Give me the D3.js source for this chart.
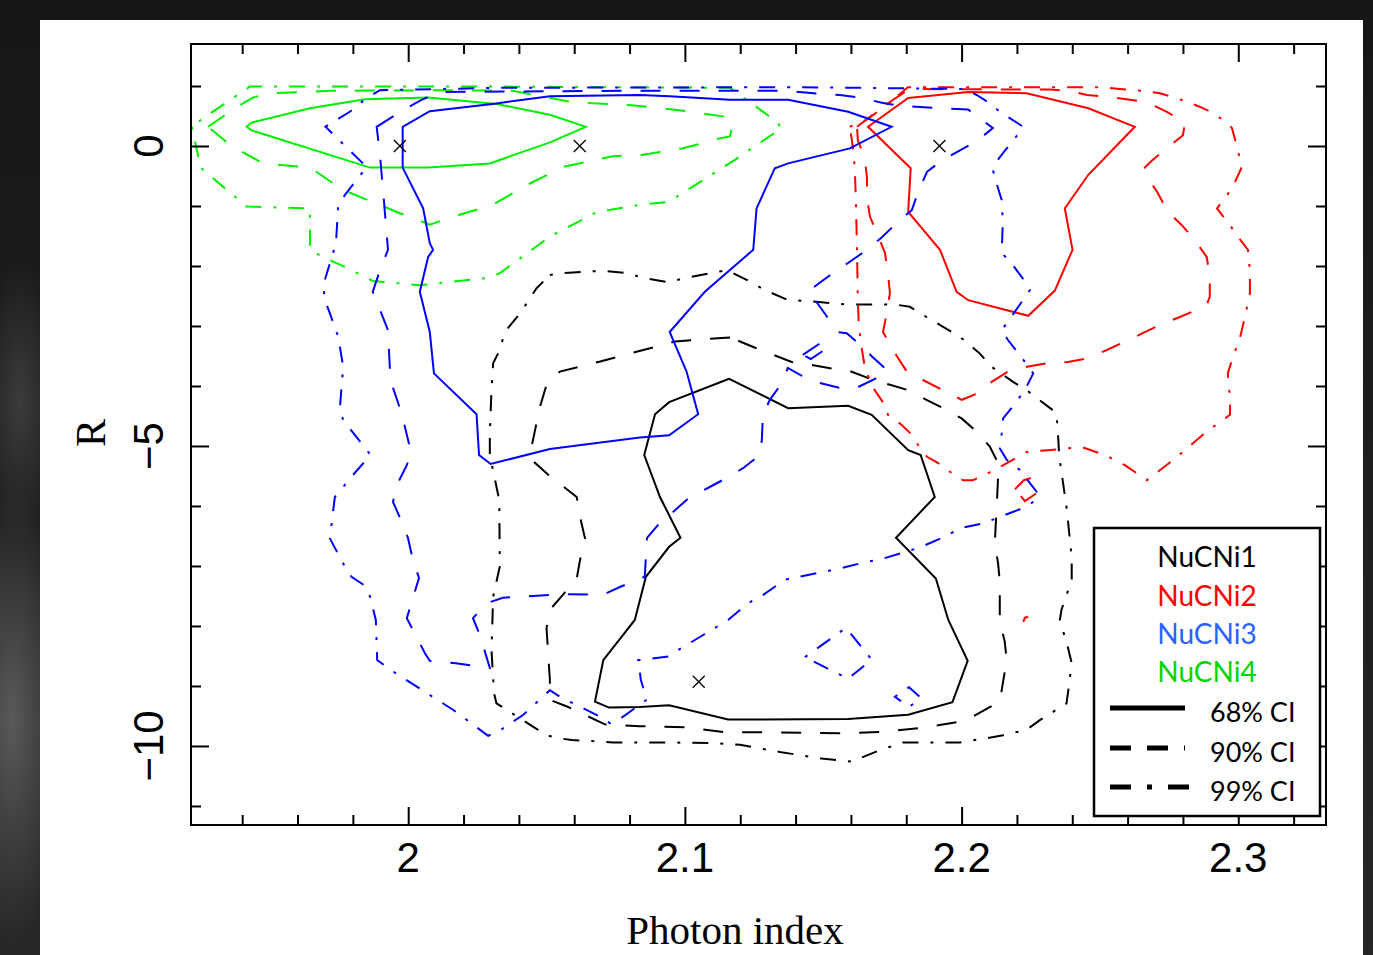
<!DOCTYPE html>
<html>
<head>
<meta charset="utf-8">
<script src="https://cdn.jsdelivr.net/npm/d3@7"></script>
<style>
  html, body { margin: 0; padding: 0; background: #1a1a1a; overflow: hidden; }
  svg { display: block; }
</style>
</head>
<body>
<script>
// ---- data: contour vertices as [photon index, R] ----

// NuCNi1 (black)
var ni1_68 = [[2.116,-3.88],[2.0943,-4.27],[2.0892,-4.47],[2.0853,-5.15],[2.091,-5.85],[2.0984,-6.53],[2.0943,-6.68],
  [2.0859,-7.18],[2.0819,-7.9],[2.0705,-8.57],[2.0675,-9.26],[2.0726,-9.36],[2.0837,-9.35],[2.0943,-9.32],[2.1156,-9.56],
  [2.159,-9.55],[2.1807,-9.48],[2.1967,-9.27],[2.2022,-8.58],[2.1952,-7.9],[2.1907,-7.21],[2.1763,-6.53],[2.1903,-5.85],
  [2.1852,-5.15],[2.1807,-5.07],[2.1675,-4.48],[2.159,-4.33],[2.1373,-4.37]];
var ni1_90 = [[2.1163,-3.19],[2.1042,-3.23],[2.0964,-3.26],[2.0825,-3.43],[2.0687,-3.6],[2.0548,-3.76],[2.05,-3.98],
  [2.0476,-4.35],[2.0446,-5.01],[2.0446,-5.23],[2.0506,-5.48],[2.0609,-5.85],[2.0621,-6.18],[2.0639,-6.54],[2.0621,-6.9],
  [2.0609,-7.21],[2.0548,-7.54],[2.0512,-7.73],[2.05,-8.04],[2.0512,-8.9],[2.0512,-9.23],[2.0578,-9.35],[2.0711,-9.64],
  [2.0837,-9.67],[2.1,-9.69],[2.1145,-9.77],[2.1289,-9.77],[2.1584,-9.79],[2.1729,-9.76],[2.1867,-9.69],[2.2012,-9.58],
  [2.2138,-9.26],[2.215,-8.93],[2.2163,-8.57],[2.2156,-8.26],[2.2138,-7.93],[2.2138,-7.26],[2.2132,-6.96],[2.212,-6.62],
  [2.2128,-5.9],[2.2132,-5.51],[2.2126,-5.23],[2.2102,-5.01],[2.2054,-4.76],[2.2,-4.54],[2.1933,-4.37],[2.1873,-4.23],
  [2.1807,-4.07],[2.1741,-3.98],[2.168,-3.9],[2.1596,-3.75],[2.153,-3.71],[2.1458,-3.65],[2.1386,-3.6],[2.1319,-3.48],
  [2.1247,-3.35]];
var ni1_99 = [[2.0512,-2.15],[2.0548,-2.12],[2.0699,-2.08],[2.0795,-2.12],[2.0849,-2.2],[2.094,-2.27],[2.1,-2.2],
  [2.1151,-2.07],[2.1223,-2.23],[2.1289,-2.4],[2.1368,-2.56],[2.1428,-2.58],[2.1584,-2.64],[2.1729,-2.64],[2.1771,-2.65],
  [2.1813,-2.68],[2.1873,-2.85],[2.1994,-3.18],[2.2066,-3.46],[2.2108,-3.68],[2.2186,-3.93],[2.2235,-4.07],[2.2343,-4.45],
  [2.2349,-4.85],[2.2353,-5.18],[2.2379,-6.01],[2.2398,-6.85],[2.2398,-7.23],[2.2361,-7.73],[2.2355,-7.9],[2.2385,-8.37],
  [2.2398,-8.62],[2.2385,-9.1],[2.2379,-9.29],[2.2283,-9.57],[2.2235,-9.73],[2.215,-9.82],[2.209,-9.87],[2.1994,-9.94],
  [2.1789,-9.94],[2.1699,-10.08],[2.1602,-10.26],[2.1494,-10.21],[2.1343,-10.1],[2.1199,-9.98],[2.1102,-9.95],
  [2.0885,-9.94],[2.0741,-9.94],[2.0591,-9.9],[2.0542,-9.87],[2.05,-9.82],[2.0452,-9.68],[2.0319,-9.29],[2.031,-9.12],
  [2.0301,-8.4],[2.0307,-7.51],[2.0331,-7.01],[2.0329,-5.9],[2.0295,-5.15],[2.0295,-4.79],[2.0301,-4.07],[2.0307,-3.62],
  [2.0331,-3.4],[2.0349,-3.1],[2.0404,-2.79],[2.0464,-2.37]];

// NuCNi2 (red)
var ni2_68 = [[2.1662,0.32],[2.1807,0.8],[2.2024,0.9],[2.2235,0.88],[2.2458,0.63],[2.2626,0.32],[2.2458,-0.48],
  [2.2373,-1.04],[2.2401,-1.73],[2.2337,-2.41],[2.2241,-2.83],[2.2024,-2.57],[2.1982,-2.43],[2.1922,-1.73],
  [2.1807,-1.1],[2.1816,-0.37]];
var ni2_68b = [[2.2223,-7.93],[2.2229,-7.86],[2.2241,-7.85]];
var ni2_90 = [[2.1622,0.32],[2.1687,0.55],[2.1752,0.77],[2.1813,0.95],[2.2319,0.94],[2.2391,0.92],[2.2453,0.85],
  [2.2536,0.82],[2.2608,0.77],[2.267,0.73],[2.2742,0.57],[2.2807,0.39],[2.28,0.18],[2.2742,-0.04],[2.2691,-0.23],
  [2.2662,-0.36],[2.267,-0.51],[2.2706,-0.76],[2.2746,-1.1],[2.2796,-1.32],[2.2843,-1.57],[2.2886,-1.85],[2.2897,-2.18],
  [2.2897,-2.51],[2.2886,-2.65],[2.285,-2.73],[2.2789,-2.85],[2.2717,-2.98],[2.2655,-3.12],[2.259,-3.26],[2.2525,-3.4],
  [2.2456,-3.54],[2.2384,-3.6],[2.2312,-3.62],[2.2236,-3.68],[2.2167,-3.76],[2.2109,-3.93],[2.2059,-4.12],[2.2001,-4.23],
  [2.1932,-4.07],[2.186,-3.9],[2.1806,-3.79],[2.1795,-3.71],[2.1752,-3.4],[2.1716,-3.1],[2.173,-2.78],[2.1741,-2.45],
  [2.1734,-2.12],[2.1723,-1.78],[2.1694,-1.45],[2.1669,-1.18],[2.1658,-0.87],[2.1658,-0.53],[2.165,-0.2],[2.1625,0.1]];
var ni2_90b = [[2.2193,-5.72],[2.2225,-5.57],[2.2254,-5.53],[2.2276,-5.77],[2.2229,-5.92]];
var ni2_99 = [[2.1596,0.32],[2.1654,0.43],[2.1705,0.6],[2.1759,0.8],[2.1806,0.98],[2.25,0.98],[2.2572,0.95],
  [2.2655,0.92],[2.2717,0.88],[2.2814,0.74],[2.2872,0.63],[2.2908,0.55],[2.2959,0.39],[2.2977,0.3],[2.2995,-0.01],
  [2.3013,-0.35],[2.2977,-0.71],[2.2923,-1.04],[2.297,-1.32],[2.2998,-1.51],[2.3035,-1.73],[2.3042,-2.07],[2.3042,-2.46],
  [2.3024,-2.85],[2.3006,-3.2],[2.2977,-3.57],[2.2962,-3.79],[2.297,-4.2],[2.297,-4.48],[2.2886,-4.76],[2.285,-4.9],
  [2.2771,-5.21],[2.267,-5.57],[2.259,-5.32],[2.2518,-5.15],[2.2435,-5.02],[2.2384,-5.04],[2.2312,-5.07],[2.2236,-5.1],
  [2.2138,-5.35],[2.2084,-5.48],[2.2041,-5.57],[2.2005,-5.57],[2.1958,-5.43],[2.1914,-5.28],[2.1875,-5.18],[2.1842,-4.98],
  [2.1813,-4.78],[2.1784,-4.65],[2.1734,-4.48],[2.1723,-4.32],[2.1679,-4.02],[2.1665,-3.87],[2.165,-3.68],[2.164,-3.4],
  [2.1629,-3.02],[2.1625,-2.57],[2.1622,-1.73],[2.1618,-0.9],[2.1614,-0.37],[2.1607,-0.02]];

// NuCNi3 (blue)
var ni3_68 = [[1.998,0.32],[2.0078,0.58],[2.0319,0.71],[2.0512,0.83],[2.0837,0.85],[2.0945,0.83],[2.1163,0.77],
  [2.1373,0.77],[2.159,0.57],[2.1747,0.32],[2.1596,-0.04],[2.1373,-0.29],[2.1325,-0.37],[2.1259,-1.04],[2.1247,-1.73],
  [2.1072,-2.43],[2.0945,-3.1],[2.1006,-3.76],[2.1048,-4.47],[2.0943,-4.82],[2.0837,-4.86],[2.0512,-5.05],[2.0298,-5.3],
  [2.0256,-5.15],[2.0247,-4.47],[2.0093,-3.79],[2.0078,-3.1],[2.0042,-2.43],[2.0072,-1.85],[2.009,-1.73],[2.0078,-1.62],
  [2.0054,-1.04],[1.998,-0.36]];
var ni3_90 = [[1.9886,0.32],[1.9982,0.6],[2.0048,0.77],[2.0115,0.9],[2.0765,0.92],[2.1369,0.92],[2.1488,0.87],
  [2.156,0.85],[2.164,0.8],[2.1712,0.72],[2.1777,0.67],[2.1849,0.65],[2.1929,0.63],[2.2023,0.61],[2.2113,0.3],
  [2.2055,0.08],[2.1932,-0.23],[2.1875,-0.43],[2.1846,-0.73],[2.182,-1.07],[2.1766,-1.28],[2.1712,-1.52],[2.1658,-1.73],
  [2.1596,-1.93],[2.1535,-2.12],[2.1481,-2.3],[2.1448,-2.42],[2.1463,-2.52],[2.151,-2.82],[2.1549,-3.1],[2.1585,-3.12],
  [2.1625,-3.28],[2.1679,-3.52],[2.1734,-3.75],[2.1687,-3.88],[2.1625,-4.02],[2.1557,-4.03],[2.1488,-3.95],[2.1423,-3.83],
  [2.1372,-3.7],[2.1351,-3.95],[2.1307,-4.23],[2.1282,-4.48],[2.1278,-4.9],[2.1271,-5.15],[2.121,-5.37],[2.1152,-5.53],
  [2.1083,-5.7],[2.1018,-5.85],[2.0957,-6.1],[2.091,-6.28],[2.0863,-6.53],[2.0855,-7.18],[2.0765,-7.35],[2.0704,-7.48],
  [2.0559,-7.47],[2.0342,-7.53],[2.0284,-7.62],[2.0234,-7.87],[2.0259,-8.15],[2.0295,-8.7],[2.0172,-8.62],[2.0078,-8.58],
  [2.006,-8.45],[1.9995,-7.87],[2.0017,-7.53],[2.0039,-7.2],[2.0017,-6.9],[1.9999,-6.53],[1.9977,-6.27],[1.9945,-5.93],
  [1.9959,-5.65],[1.9995,-5.32],[2.001,-5.1],[1.9988,-4.68],[1.997,-4.37],[1.9945,-4.03],[1.9934,-3.73],[1.993,-3.37],
  [1.9927,-3.07],[1.9898,-2.73],[1.9872,-2.43],[1.9898,-2.07],[1.9927,-1.73],[1.9912,-0.9],[1.9898,-0.15]];
var ni3_90b = [[2.1426,-3.48],[2.1495,-3.27],[2.152,-3.35],[2.1455,-3.55]];
var ni3_99 = [[1.9701,0.32],[1.9789,0.57],[1.9844,0.78],[1.9898,0.93],[2.0331,0.97],[2.1416,0.98],[2.2012,0.95],
  [2.2055,0.85],[2.2102,0.71],[2.2138,0.57],[2.2223,0.32],[2.2193,0.13],[2.2163,-0.04],[2.2126,-0.26],[2.2114,-0.41],
  [2.2126,-0.62],[2.2145,-0.9],[2.2149,-1.28],[2.2146,-1.65],[2.2153,-1.82],[2.2181,-1.96],[2.2217,-2.18],[2.2247,-2.4],
  [2.2205,-2.68],[2.2145,-3.07],[2.2167,-3.23],[2.2229,-3.6],[2.2259,-3.79],[2.2235,-4.01],[2.2199,-4.26],[2.215,-4.54],
  [2.2145,-4.79],[2.2138,-5.04],[2.2163,-5.23],[2.2211,-5.4],[2.2247,-5.62],[2.2271,-5.76],[2.2277,-5.87],[2.2235,-6.01],
  [2.2185,-6.1],[2.2078,-6.29],[2.1994,-6.37],[2.194,-6.51],[2.1855,-6.68],[2.1801,-6.76],[2.1699,-6.9],[2.1657,-6.93],
  [2.156,-7.04],[2.15,-7.1],[2.1379,-7.21],[2.1361,-7.23],[2.1283,-7.48],[2.1229,-7.62],[2.1156,-7.9],[2.1066,-8.15],
  [2.0976,-8.4],[2.094,-8.51],[2.0831,-8.57],[2.0841,-8.9],[2.0862,-9.23],[2.0825,-9.35],[2.0777,-9.51],[2.0729,-9.62],
  [2.0693,-9.51],[2.0548,-9.18],[2.0512,-9.07],[2.0416,-9.48],[2.0325,-9.76],[2.0289,-9.83],[2.0163,-9.4],[2.0078,-9.15],
  [1.9946,-8.76],[1.9888,-8.57],[1.9883,-7.9],[1.9862,-7.51],[1.9844,-7.33],[1.9795,-7.18],[1.9765,-6.96],[1.9717,-6.54],
  [1.9729,-6.07],[1.9735,-5.85],[1.9801,-5.48],[1.9864,-5.15],[1.9832,-4.96],[1.9765,-4.57],[1.9753,-4.37],[1.9765,-3.68],
  [1.9747,-3.18],[1.9717,-2.79],[1.9699,-2.57],[1.9693,-2.32],[1.9739,-1.62],[1.9747,-0.98],[1.9777,-0.78],[1.985,-0.35]];
var ni3_99b = [[2.1434,-8.52],[2.1582,-8.03],[2.1675,-8.56],[2.159,-8.88]];
var ni3_99c = [[2.1759,-9.18],[2.181,-9.02],[2.1853,-9.2],[2.181,-9.35]];

// NuCNi4 (green)
var ni4_68 = [[1.9416,0.32],[1.9434,0.39],[1.9645,0.63],[1.9844,0.78],[2.0072,0.81],[2.0319,0.7],[2.0512,0.52],
  [2.0642,0.32],[2.0512,0.06],[2.0295,-0.29],[2.0072,-0.36],[1.9862,-0.36],[1.9434,0.26]];
var ni4_90 = [[1.9277,0.32],[1.9374,0.63],[1.944,0.81],[1.9511,0.88],[1.9717,0.92],[2.015,0.93],[2.0378,0.92],
  [2.0595,0.73],[2.0808,0.68],[2.0909,0.63],[2.1025,0.57],[2.1155,0.48],[2.1174,0.4],[2.1163,0.16],[2.1127,0.13],
  [2.1061,0.04],[2.0989,-0.04],[2.0909,-0.1],[2.0844,-0.15],[2.074,-0.17],[2.0559,-0.35],[2.0429,-0.65],[2.0306,-0.98],
  [2.0161,-1.18],[2.0078,-1.31],[1.9959,-1.1],[1.9764,-0.73],[1.9645,-0.36],[1.9475,-0.29],[1.9355,0.02]];
var ni4_99 = [[1.9218,0.32],[1.924,-0.15],[1.9247,-0.35],[1.929,-0.52],[1.9416,-1.01],[1.9645,-1.04],[1.9645,-1.73],
  [1.9692,-1.85],[1.9778,-2.03],[1.9872,-2.25],[2.0042,-2.32],[2.0284,-2.2],[2.0331,-2.12],[2.0512,-1.51],[2.0682,-1.1],
  [2.0837,-0.98],[2.0942,-0.93],[2.1065,-0.57],[2.1181,-0.23],[2.135,0.3],[2.1325,0.43],[2.1198,0.85],[2.1163,0.97],
  [2.0331,0.99],[1.9428,0.99],[1.9392,0.88],[1.9258,0.46]];

// best-fit markers
var bestFit = [[1.997,0],[2.062,0],[2.192,0],[2.105,-8.93]];

// axis ticks and labels
var xMajor = [2, 2.1, 2.2, 2.3];
var xLabels = ["2", "2.1", "2.2", "2.3"];
var xMinor = [1.94, 1.96, 1.98, 2.02, 2.04, 2.06, 2.08, 2.12, 2.14, 2.16, 2.18, 2.22, 2.24, 2.26, 2.28, 2.32];
var yMajor = [0, -5, -10];
var yLabels = ["0", "\u22125", "\u221210"];
var yMinor = [1, -1, -2, -3, -4, -6, -7, -8, -9, -11];

var seriesNames = ["NuCNi1", "NuCNi2", "NuCNi3", "NuCNi4"];
var levelNames = ["68% CI", "90% CI", "99% CI"];

// ---- drawing ----
var width = 1373, height = 955;
var lineColors = ["#000000", "#ff0000", "#0000ff", "#00f000"];
var legendColors = ["#000000", "#ff0000", "#2a62ff", "#00d400"];
var dashes = [null, "20,19", "3,12,16,12"];

var contours = [
  {pts: ni1_68, s: 0, l: 0}, {pts: ni1_90, s: 0, l: 1}, {pts: ni1_99, s: 0, l: 2},
  {pts: ni4_68, s: 3, l: 0}, {pts: ni4_90, s: 3, l: 1}, {pts: ni4_99, s: 3, l: 2},
  {pts: ni2_68, s: 1, l: 0}, {pts: ni2_68b, s: 1, l: 0, open: true}, {pts: ni2_90, s: 1, l: 1},
  {pts: ni2_90b, s: 1, l: 1}, {pts: ni2_99, s: 1, l: 2},
  {pts: ni3_68, s: 2, l: 0}, {pts: ni3_90, s: 2, l: 1}, {pts: ni3_90b, s: 2, l: 1},
  {pts: ni3_99, s: 2, l: 2}, {pts: ni3_99b, s: 2, l: 2}, {pts: ni3_99c, s: 2, l: 2}
];

var x = d3.scaleLinear().domain([1.9215, 2.3317]).range([191, 1326]);
var y = d3.scaleLinear().domain([1.7, -11.317]).range([44, 825]);

var svg = d3.select("body").append("svg")
    .attr("width", width)
    .attr("height", height);

var defs = svg.append("defs");

// dark photo-like backdrop
var bg = defs.append("linearGradient").attr("id", "bg")
    .attr("x1", 0).attr("y1", 0).attr("x2", 0).attr("y2", 1);
bg.append("stop").attr("offset", "0%").attr("stop-color", "#161616");
bg.append("stop").attr("offset", "100%").attr("stop-color", "#262626");
var glow = defs.append("radialGradient").attr("id", "glow");
glow.append("stop").attr("offset", "0%").attr("stop-color", "#5a5a5a");
glow.append("stop").attr("offset", "100%").attr("stop-color", "#5a5a5a").attr("stop-opacity", 0);

svg.append("rect").attr("width", width).attr("height", height).attr("fill", "url(#bg)");
svg.append("ellipse").attr("cx", 12).attr("cy", 720).attr("rx", 60).attr("ry", 230).attr("fill", "url(#glow)");
svg.append("ellipse").attr("cx", 20).attr("cy", 400).attr("rx", 40).attr("ry", 140).attr("fill", "url(#glow)").attr("opacity", 0.5);

// white figure panel
svg.append("rect").attr("x", 40).attr("y", 20).attr("width", 1323).attr("height", 940).attr("fill", "#ffffff");

defs.append("clipPath").attr("id", "plotclip")
  .append("rect").attr("x", 191).attr("y", 44).attr("width", 1135).attr("height", 781);

var line = d3.line().x(function(d) { return x(d[0]); }).y(function(d) { return y(d[1]); });
var closedLine = d3.line().x(function(d) { return x(d[0]); }).y(function(d) { return y(d[1]); })
    .curve(d3.curveLinearClosed);

var plot = svg.append("g").attr("clip-path", "url(#plotclip)");

plot.selectAll(".contour")
    .data(contours)
    .enter()
    .append("path")
    .attr("class", "contour")
    .attr("d", function(d) { return d.open ? line(d.pts) : closedLine(d.pts); })
    .attr("fill", "none")
    .attr("stroke", function(d) { return lineColors[d.s]; })
    .attr("stroke-width", 2)
    .attr("stroke-dasharray", function(d) { return dashes[d.l]; });

// best fit crosses
plot.selectAll(".bf")
    .data(bestFit)
    .enter()
    .append("path")
    .attr("class", "bf")
    .attr("d", function(d) {
        var cx = x(d[0]), cy = y(d[1]), s = 6;
        return "M" + (cx - s) + "," + (cy - s) + "L" + (cx + s) + "," + (cy + s) +
               "M" + (cx - s) + "," + (cy + s) + "L" + (cx + s) + "," + (cy - s);
    })
    .attr("stroke", "#000")
    .attr("stroke-width", 1.3)
    .attr("fill", "none");

// ticks on all four sides, pointing inward
function tickSet(axis, vals, size, tx, ty) {
    svg.append("g")
        .attr("transform", "translate(" + tx + "," + ty + ")")
        .call(axis.tickValues(vals).tickSize(size).tickFormat(""))
        .call(function(g) { g.select(".domain").remove(); })
        .selectAll("line").attr("stroke", "#000").attr("stroke-width", 2);
}
tickSet(d3.axisBottom(x), xMinor, -10, 0, 825);
tickSet(d3.axisBottom(x), xMajor, -18, 0, 825);
tickSet(d3.axisTop(x), xMinor, -10, 0, 44);
tickSet(d3.axisTop(x), xMajor, -18, 0, 44);
tickSet(d3.axisLeft(y), yMinor, -10, 191, 0);
tickSet(d3.axisLeft(y), yMajor, -18, 191, 0);
tickSet(d3.axisRight(y), yMinor, -10, 1326, 0);
tickSet(d3.axisRight(y), yMajor, -18, 1326, 0);

// frame
svg.append("rect")
    .attr("x", 191).attr("y", 44).attr("width", 1135).attr("height", 781)
    .attr("fill", "none").attr("stroke", "#000").attr("stroke-width", 2);

// tick labels
svg.selectAll(".xlab")
    .data(xMajor)
    .enter()
    .append("text")
    .attr("x", function(d) { return x(d); })
    .attr("y", 872)
    .attr("text-anchor", "middle")
    .style("font-family", "'Liberation Sans', Arial, sans-serif")
    .style("font-size", "42px")
    .text(function(d, i) { return xLabels[i]; });

svg.selectAll(".ylab")
    .data(yMajor)
    .enter()
    .append("text")
    .attr("transform", function(d) { return "translate(163," + y(d) + ") rotate(-90)"; })
    .attr("text-anchor", "middle")
    .style("font-family", "'Liberation Sans', Arial, sans-serif")
    .style("font-size", "42px")
    .text(function(d, i) { return yLabels[i]; });

// axis titles
svg.append("text")
    .attr("x", 735).attr("y", 944)
    .attr("text-anchor", "middle")
    .style("font-family", "'Liberation Serif', 'Times New Roman', serif")
    .style("font-size", "41px")
    .text("Photon index");

svg.append("text")
    .attr("transform", "translate(105,433) rotate(-90)")
    .attr("text-anchor", "middle")
    .style("font-family", "'Liberation Serif', 'Times New Roman', serif")
    .style("font-size", "42px")
    .text("R");

// legend
var legend = svg.append("g");
legend.append("rect")
    .attr("x", 1094).attr("y", 528).attr("width", 226).attr("height", 288)
    .attr("fill", "#fff").attr("stroke", "#000").attr("stroke-width", 2.5);

var nameY = [567, 606, 644, 682];
legend.selectAll(".lname")
    .data(seriesNames)
    .enter()
    .append("text")
    .attr("x", 1207)
    .attr("y", function(d, i) { return nameY[i]; })
    .attr("text-anchor", "middle")
    .attr("fill", function(d, i) { return legendColors[i]; })
    .style("font-family", "Lato, 'Open Sans', sans-serif")
    .style("font-size", "28px")
    .text(function(d) { return d; });

var levelY = [708, 748, 787];
var levelLen = [75, 75, 80];
var legendDash = [null, "21,16", "21,16,5,16"];
legend.selectAll(".lline")
    .data(levelNames)
    .enter()
    .append("line")
    .attr("x1", 1110)
    .attr("x2", function(d, i) { return 1110 + levelLen[i]; })
    .attr("y1", function(d, i) { return levelY[i]; })
    .attr("y2", function(d, i) { return levelY[i]; })
    .attr("stroke", "#000")
    .attr("stroke-width", 5)
    .attr("stroke-dasharray", function(d, i) { return legendDash[i]; });

legend.selectAll(".llab")
    .data(levelNames)
    .enter()
    .append("text")
    .attr("x", 1210)
    .attr("y", function(d, i) { return levelY[i] + 14; })
    .style("font-family", "Lato, 'Open Sans', sans-serif")
    .style("font-size", "27px")
    .text(function(d) { return d; });
</script>
</body>
</html>
